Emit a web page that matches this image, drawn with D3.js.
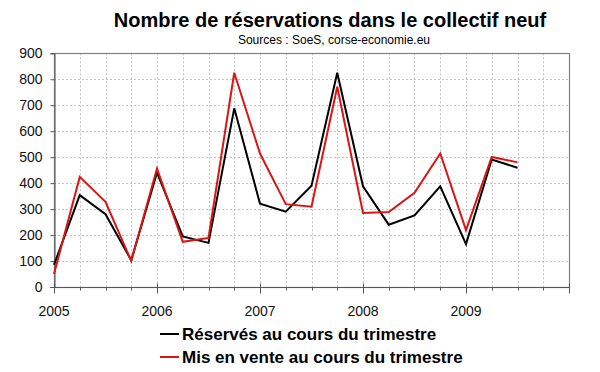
<!DOCTYPE html>
<html>
<head>
<meta charset="utf-8">
<script src="https://cdn.jsdelivr.net/npm/d3@7"></script>
<style>
  html, body { margin: 0; padding: 0; background: #fff; }
  svg { display: block; font-family: "Liberation Sans", Arial, sans-serif; }
</style>
</head>
<body>
<svg id="chart" width="600" height="372"></svg>
<script>
const title = "Nombre de réservations dans le collectif neuf";
const subtitle = "Sources : SoeS, corse-economie.eu";
const quarters = ["2005T1","2005T2","2005T3","2005T4","2006T1","2006T2","2006T3","2006T4",
                  "2007T1","2007T2","2007T3","2007T4","2008T1","2008T2","2008T3","2008T4",
                  "2009T1","2009T2","2009T3"];
const reserves = [85, 354, 280, 103, 440, 195, 170, 688, 321, 290, 390, 825, 388, 240, 276, 388, 165, 491, 459];
const misEnVente = [50, 424, 328, 100, 456, 174, 189, 825, 514, 319, 309, 771, 285, 289, 363, 514, 219, 501, 480];
const yearLabels = ["2005","2006","2007","2008","2009"];
const yTicks = [0,100,200,300,400,500,600,700,800,900];
const seriesNames = ["Réservés au cours du trimestre", "Mis en vente au cours du trimestre"];
const seriesColors = ["#000000", "#dd1414"];

(function () {
const svg = d3.select("#chart");
const pL = 54, pR = 569, pT = 53.3, pB = 287;

const qx = q => +q.slice(0,4) + (+q.slice(5) - 1) / 4;
const x = d3.scaleLinear().domain([2005, 2010]).range([pL, pR]);
const y = d3.scaleLinear().domain([0, 900]).range([pB, pT]);

// gridlines
const grid = svg.append("g").attr("stroke", "#c4c4c4").attr("stroke-width", 1).attr("stroke-dasharray", "2,2");
const qGrid = d3.range(1, 20).map(i => 2005 + i / 4);
grid.selectAll("line.v").data(qGrid).join("line").attr("class", "v")
  .attr("x1", d => Math.round(x(d)) + 0.5).attr("x2", d => Math.round(x(d)) + 0.5)
  .attr("y1", pT).attr("y2", pB);
grid.selectAll("line.h").data(yTicks.filter(v => v > 0 && v < 900)).join("line").attr("class", "h")
  .attr("y1", d => Math.round(y(d)) + 0.5).attr("y2", d => Math.round(y(d)) + 0.5)
  .attr("x1", pL).attr("x2", pR);

// border
svg.append("rect").attr("x", pL + 0.5).attr("y", Math.round(pT) + 0.5)
  .attr("width", pR - pL).attr("height", Math.round(pB) - Math.round(pT))
  .attr("fill", "none").attr("stroke", "#808080").attr("stroke-width", 1.2);

// y axis
const yAxis = svg.append("g").attr("transform", `translate(${pL + 0.5},0)`)
  .call(d3.axisLeft(y).tickValues(yTicks).tickSize(4).tickPadding(8).tickFormat(d3.format("d")));
yAxis.select(".domain").attr("stroke", "#555");
yAxis.selectAll(".tick line").attr("stroke", "#555");
yAxis.selectAll("text").attr("font-size", 14).attr("fill", "#111").attr("font-family", "Liberation Sans, Arial, sans-serif");

// x axis: quarter ticks small, year ticks long
const xAxisG = svg.append("g").attr("transform", `translate(0,${Math.round(pB) + 0.5})`);
xAxisG.append("line").attr("x1", pL).attr("x2", pR).attr("stroke", "#555").attr("stroke-width", 1.2);
const qTicks = d3.range(0, 21).map(i => 2005 + i / 4);
const isYear = d => Math.abs(d - Math.round(d)) < 1e-9;
xAxisG.selectAll("line.qt").data(qTicks).join("line").attr("class", "qt")
  .attr("x1", d => Math.round(x(d)) + 0.5).attr("x2", d => Math.round(x(d)) + 0.5)
  .attr("y1", d => isYear(d) ? -4 : 0)
  .attr("y2", d => isYear(d) ? 6 : 3)
  .attr("stroke", "#555");
xAxisG.selectAll("text").data(yearLabels).join("text")
  .attr("x", d => x(+d)).attr("y", 28)
  .attr("text-anchor", "middle").attr("font-size", 14).attr("fill", "#111")
  .text(d => d);

// lines
const line = d3.line().x((d, i) => x(qx(quarters[i]))).y(d => y(d));
[reserves, misEnVente].forEach((s, k) => {
  svg.append("path").datum(s).attr("d", line)
    .attr("fill", "none").attr("stroke", seriesColors[k]).attr("stroke-width", 2)
    .attr("stroke-linejoin", "miter");
});

// title
svg.append("text").attr("x", 330).attr("y", 27).attr("text-anchor", "middle")
  .attr("font-size", 20).attr("font-weight", "bold").attr("fill", "#000").text(title);
svg.append("text").attr("x", 334).attr("y", 44).attr("text-anchor", "middle")
  .attr("font-size", 12).attr("fill", "#000").text(subtitle);

// legend
const leg = svg.append("g");
seriesNames.forEach((n, k) => {
  const yy = 334 + k * 23;
  leg.append("line").attr("x1", 160).attr("x2", 179).attr("y1", yy).attr("y2", yy)
    .attr("stroke", seriesColors[k]).attr("stroke-width", 2);
  leg.append("text").attr("x", 182).attr("y", yy + 5.5).attr("font-size", 17)
    .attr("font-weight", "bold").attr("fill", "#000").text(n);
});
})();
</script>
</body>
</html>
